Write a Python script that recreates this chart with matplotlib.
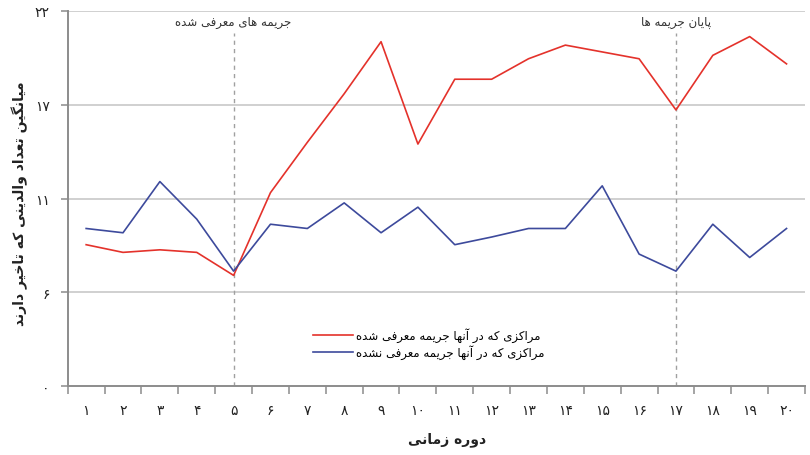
import matplotlib
matplotlib.use('Agg')
import matplotlib.pyplot as plt
import numpy as np

# Persian text has to be shaped by hand: matplotlib does no joining/bidi
FORMS = {
    # char: (isolated, final, initial, medial) ; right-joining letters have 2
    '\u0627': ('\uFE8D', '\uFE8E'),
    '\u0622': ('\uFE81', '\uFE82'),
    '\u062F': ('\uFEA9', '\uFEAA'),
    '\u0630': ('\uFEAB', '\uFEAC'),
    '\u0631': ('\uFEAD', '\uFEAE'),
    '\u0632': ('\uFEAF', '\uFEB0'),
    '\u0648': ('\uFEED', '\uFEEE'),
    '\u0628': ('\uFE8F', '\uFE90', '\uFE91', '\uFE92'),
    '\u067E': ('\uFB56', '\uFB57', '\uFB58', '\uFB59'),
    '\u062A': ('\uFE95', '\uFE96', '\uFE97', '\uFE98'),
    '\u062C': ('\uFE9D', '\uFE9E', '\uFE9F', '\uFEA0'),
    '\u062E': ('\uFEA5', '\uFEA6', '\uFEA7', '\uFEA8'),
    '\u0634': ('\uFEB5', '\uFEB6', '\uFEB7', '\uFEB8'),
    '\u0639': ('\uFEC9', '\uFECA', '\uFECB', '\uFECC'),
    '\u0641': ('\uFED1', '\uFED2', '\uFED3', '\uFED4'),
    '\u06A9': ('\uFB8E', '\uFB8F', '\uFB90', '\uFB91'),
    '\u06AF': ('\uFB92', '\uFB93', '\uFB94', '\uFB95'),
    '\u0644': ('\uFEDD', '\uFEDE', '\uFEDF', '\uFEE0'),
    '\u0645': ('\uFEE1', '\uFEE2', '\uFEE3', '\uFEE4'),
    '\u0646': ('\uFEE5', '\uFEE6', '\uFEE7', '\uFEE8'),
    '\u0647': ('\uFEE9', '\uFEEA', '\uFEEB', '\uFEEC'),
    '\u06CC': ('\uFBFC', '\uFBFD', '\uFBFE', '\uFBFF'),
}


def fa(text):
    out = []
    n = len(text)
    for i, c in enumerate(text):
        f = FORMS.get(c)
        if f is None:
            out.append(c)
            continue
        prev = text[i - 1] if i > 0 else ''
        nxt = text[i + 1] if i < n - 1 else ''
        join_prev = prev in FORMS and len(FORMS[prev]) == 4
        join_next = len(f) == 4 and nxt in FORMS
        if len(f) == 2:
            out.append(f[1] if join_prev else f[0])
        elif join_prev and join_next:
            out.append(f[3])
        elif join_next:
            out.append(f[2])
        elif join_prev:
            out.append(f[1])
        else:
            out.append(f[0])
    return ''.join(out)[::-1]


def fa_num(k):
    return str(k).translate(str.maketrans('0123456789', '۰۱۲۳۴۵۶۷۸۹'))


periods = list(range(1, 21))
fined = [8.3, 7.85, 8.0, 7.85, 6.5, 11.35, 14.3, 17.15, 20.2, 14.2,
         18.0, 18.0, 19.2, 20.0, 19.6, 19.2, 16.2, 19.4, 20.5, 18.9]
not_fined = [9.25, 9.0, 12.0, 9.8, 6.75, 9.5, 9.25, 10.75, 9.0, 10.5,
             8.3, 8.75, 9.25, 9.25, 11.75, 7.75, 6.75, 9.5, 7.55, 9.25]
y_ticks = [0, 5.5, 11, 16.5, 22]
y_labels = ['۰', '۶', '۱۱', '۱۷', '۲۲']
events = [5, 17]
event_labels = ['جریمه های معرفی شده', 'پایان جریمه ها']
series_labels = ['مراکزی که در آنها جریمه معرفی شده',
                 'مراکزی که در آنها جریمه معرفی نشده']

FONT = ['DejaVu Sans']
plt.rcParams['font.family'] = FONT

fig = plt.figure(figsize=(8.1, 4.56), dpi=100)
ax = fig.add_axes([0.0836, 0.1507, 0.9102, 0.823])

RED = '#e4322b'
BLUE = '#3d4a9c'
GREY = '#8c8c8c'

for y in y_ticks[1:]:
    ax.axhline(y, color='#c4c4c4', lw=1.1, zorder=1)

for e in events:
    ax.vlines(e, 0, 20.7, colors='#a0a0a0', lw=1.0, linestyles=(0, (3, 3)), zorder=2)

l1, = ax.plot(periods, fined, color=RED, lw=1.2, zorder=3)
l2, = ax.plot(periods, not_fined, color=BLUE, lw=1.2, zorder=3)

for e, lab in zip(events, event_labels):
    ax.text(e, 21.4, fa(lab), ha='center', va='center', fontsize=8.5, color='#333333')

ax.set_xlim(0.5, 20.5)
ax.set_ylim(0, 22)

ax.set_xticks(np.arange(0.5, 21, 1))
ax.set_xticklabels([])
ax.set_xticks(periods, minor=True)
ax.set_xticklabels([fa_num(p) for p in periods], minor=True)
ax.tick_params(axis='x', which='major', length=6, width=1.1, color=GREY, direction='out')
ax.tick_params(axis='x', which='minor', length=0, pad=12, labelsize=10, labelcolor='#222222')

ax.set_yticks(y_ticks)
ax.set_yticklabels(y_labels)
ax.tick_params(axis='y', length=5, width=1.1, color=GREY, pad=8, labelsize=10, labelcolor='#222222')

for s in ['top', 'right']:
    ax.spines[s].set_visible(False)
for s in ['left', 'bottom']:
    ax.spines[s].set_color(GREY)
    ax.spines[s].set_linewidth(1.4)

leg = ax.legend([l1, l2], [fa(t) for t in series_labels], loc='upper left',
                bbox_to_anchor=(0.333, 0.157), frameon=False, fontsize=8.5,
                handlelength=3.4, handletextpad=0.25, labelspacing=0.15,
                borderpad=0, borderaxespad=0)

fig.text(0.025, 0.553, fa('میانگین تعداد والدینی که تاخیر دارند'), rotation=90,
         ha='center', va='center', fontsize=10, fontweight='bold', color='#222222')
fig.text(0.552, 0.035, fa('دوره زمانی'), ha='center', va='center',
         fontsize=10, fontweight='bold', color='#222222')

fig.savefig('out.png', dpi=100)
